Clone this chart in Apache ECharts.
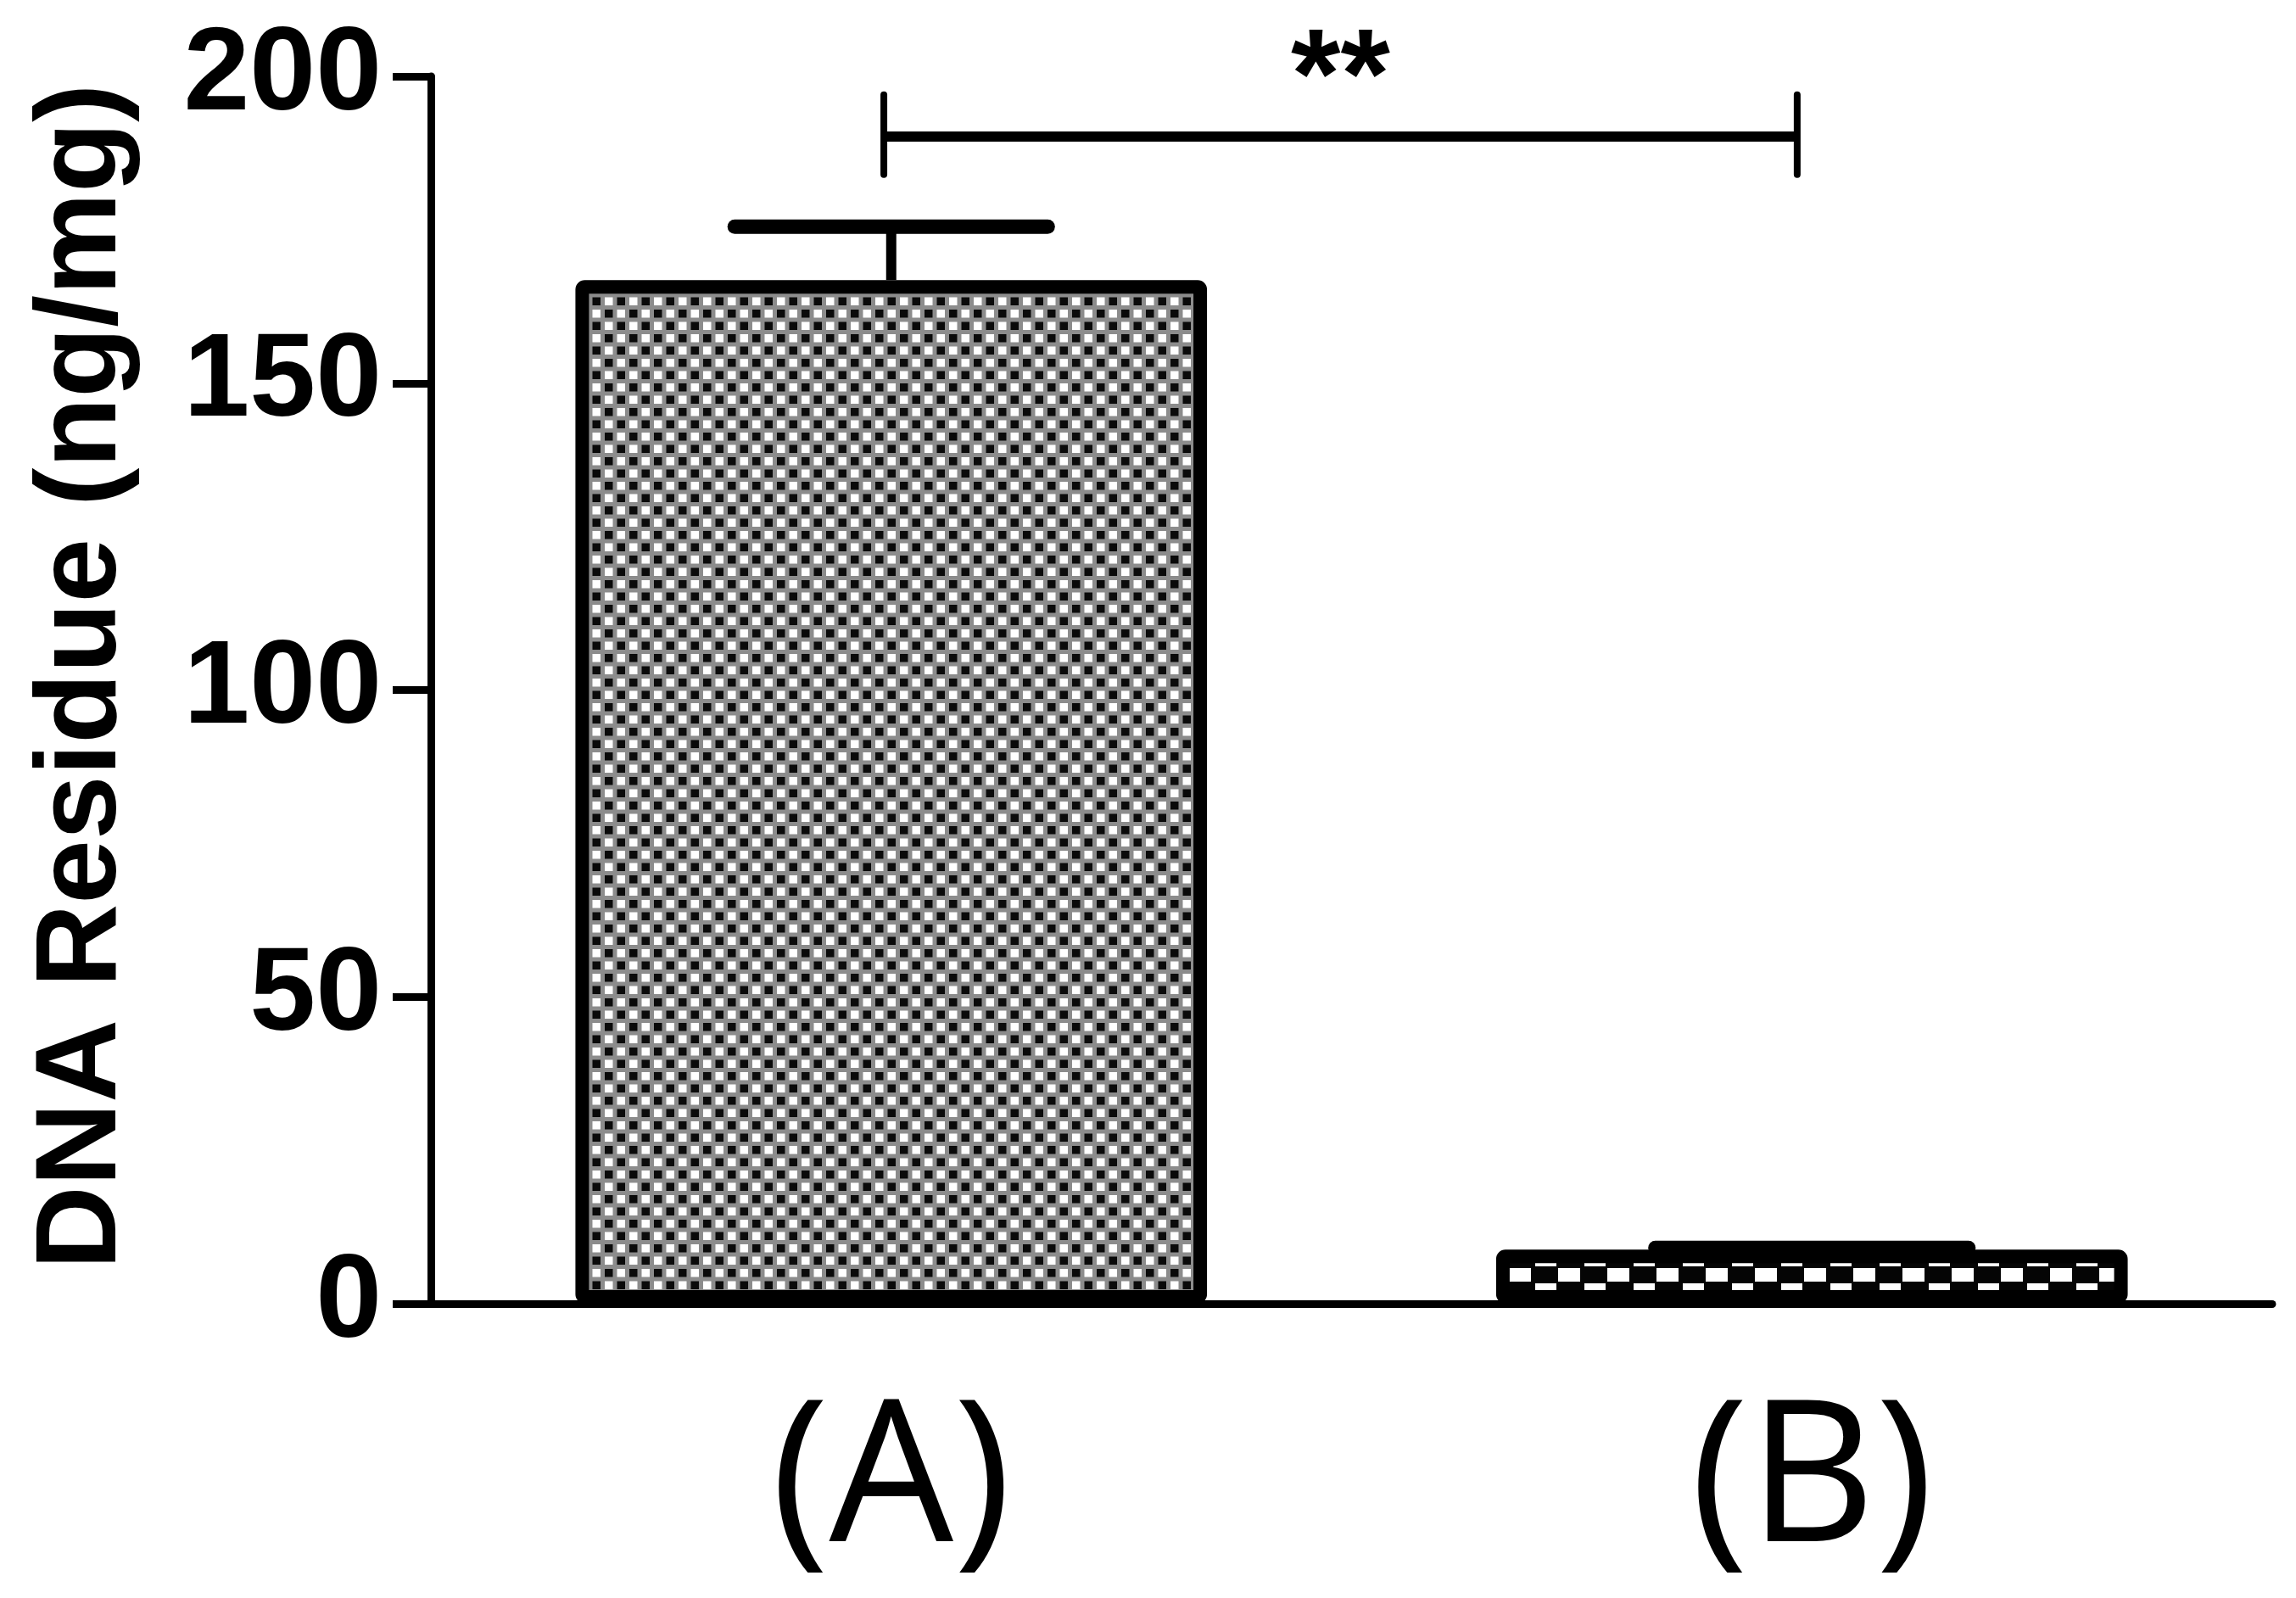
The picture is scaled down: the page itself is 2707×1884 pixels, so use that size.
<!DOCTYPE html>
<html><head><meta charset="utf-8">
<script src="https://cdn.jsdelivr.net/npm/echarts@6/dist/echarts.min.js"></script>
<style>html,body{margin:0;padding:0;background:#fff}#c{width:2707px;height:1884px}</style>
</head><body><div id="c"></div><script>
// ---- data ----
const categories = ['(A)', '(B)'];
const means = [166.8, 8.8];
const errors = [8.7, 0.3];
const yTickLabels = ['0', '50', '100', '150', '200'];
const sigPair = [0, 1];              // categories joined by the bracket
const sigLevels = [190.2, 197, 184]; // bracket line, end-tick top, end-tick bottom
const sigLabel = '**';
const sigLabelLevel = [199];

// ---- fill patterns ----
function patternA() {
  const c = document.createElement('canvas'); c.width = 29; c.height = 29;
  const g = c.getContext('2d');
  g.fillStyle = '#8c8c8c'; g.fillRect(0, 0, 29, 29);
  const s = 9.5, o = (14.5 - s) / 2;
  g.fillStyle = '#0a0a0a';
  g.fillRect(o, o, s, s); g.fillRect(14.5 + o, 14.5 + o, s, s);
  g.fillStyle = '#ffffff';
  g.fillRect(14.5 + o, o, s, s); g.fillRect(o, 14.5 + o, s, s);
  return c;
}
function patternB() {
  const c = document.createElement('canvas'); c.width = 58; c.height = 38;
  const g = c.getContext('2d');
  g.fillStyle = '#050505'; g.fillRect(0, 0, 58, 38);
  g.fillStyle = '#ffffff';
  g.fillRect(27, 0, 26, 16);   // upper row
  g.fillRect(0, 18, 25, 18);   // lower row
  return c;
}
const fills = [
  { image: patternA(), repeat: 'repeat' },
  { image: patternB(), repeat: 'repeat', x: 12, y: 13 }
];

const chart = echarts.init(document.getElementById('c'), null, { renderer: 'canvas' });
const tickFont = 'Liberation Sans, Arial, sans-serif';

chart.setOption({
  backgroundColor: '#ffffff',
  animation: false,
  grid: { left: 508, right: 28, top: 90, bottom: 347, containLabel: false },
  xAxis: {
    type: 'category',
    data: categories,
    axisLine: { lineStyle: { color: '#000', width: 9 } },
    axisTick: { alignWithLabel: true, length: 46, lineStyle: { color: '#000', width: 9 } },
    axisLabel: { color: '#000', fontSize: 232, fontFamily: 'Open Sans, sans-serif', margin: 98 },
    splitLine: { show: false }
  },
  yAxis: {
    type: 'value', min: 0, max: 200, interval: 50,
    name: 'DNA Residue (ng/mg)',
    nameLocation: 'middle',
    nameGap: 342,
    nameTextStyle: { color: '#000', fontSize: 136, fontWeight: 'bold', fontFamily: tickFont,
                     padding: [0, 0, 0, 32] },
    axisLine: { show: true, lineStyle: { color: '#000', width: 9 } },
    axisTick: { show: true, length: 45, lineStyle: { color: '#000', width: 9 } },
    axisLabel: {
      color: '#000', fontSize: 140, fontWeight: 'bold', fontFamily: tickFont, margin: 58,
      formatter: v => yTickLabels[Math.round(v / 50)]
    },
    splitLine: { show: false }
  },
  series: [
    {
      type: 'bar',
      barWidth: '68.6%',
      data: means.map((m, i) => ({
        value: m,
        itemStyle: { color: fills[i], borderColor: '#000', borderWidth: 16, borderRadius: 3 }
      }))
    },
    {
      type: 'custom',
      encode: { x: 0, y: 2 },
      data: means.map((m, i) => [i, m, m + errors[i]]),
      renderItem: function (params, api) {
        const i = api.value(0);
        const base = api.coord([i, api.value(1)]);
        const top = api.coord([i, api.value(2)]);
        const half = api.size([1, 0])[0] * 0.17;
        return {
          type: 'group', children: [
            { type: 'line', shape: { x1: top[0], y1: base[1], x2: top[0], y2: top[1] },
              style: { stroke: '#000', lineWidth: 12 } },
            { type: 'line', shape: { x1: top[0] - half, y1: top[1], x2: top[0] + half, y2: top[1] },
              style: { stroke: '#000', lineWidth: 17, lineCap: 'round' } }
          ]
        };
      }
    },
    {
      type: 'custom',
      encode: { x: 0, y: 2 },
      data: [[sigPair[0], sigPair[1], sigLevels[0], sigLevels[1], sigLevels[2], sigLabelLevel[0]]],
      renderItem: function (params, api) {
        const band = api.size([1, 0])[0];
        const a = api.coord([api.value(0), api.value(2)]);
        const b = api.coord([api.value(1), api.value(2)]);
        const xa = a[0] - band * 0.008, xb = b[0] - band * 0.016;
        const yt = api.coord([api.value(0), api.value(3)])[1];
        const yb = api.coord([api.value(0), api.value(4)])[1];
        const ys = api.coord([api.value(0), api.value(5)])[1];
        return {
          type: 'group', children: [
            { type: 'line', shape: { x1: xa, y1: a[1], x2: xb, y2: b[1] },
              style: { stroke: '#000', lineWidth: 12 } },
            { type: 'line', shape: { x1: xa, y1: yt, x2: xa, y2: yb },
              style: { stroke: '#000', lineWidth: 8, lineCap: 'round' } },
            { type: 'line', shape: { x1: xb, y1: yt, x2: xb, y2: yb },
              style: { stroke: '#000', lineWidth: 8, lineCap: 'round' } },
            { type: 'text', x: (xa + xb) / 2, y: ys,
              style: { text: sigLabel, fill: '#000', fontSize: 150, fontWeight: 'bold',
                       fontFamily: tickFont, align: 'center', verticalAlign: 'middle' } }
          ]
        };
      }
    }
  ]
});
</script></body></html>
